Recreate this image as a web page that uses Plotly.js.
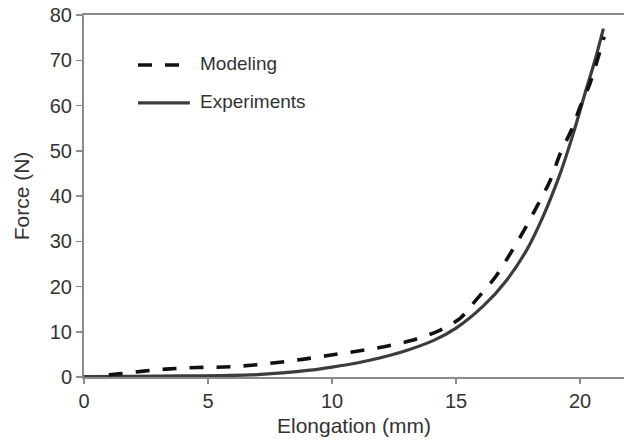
<!DOCTYPE html>
<html>
<head>
<meta charset="utf-8">
<script src="https://cdn.plot.ly/plotly-3.0.1.min.js"></script>
<style>html,body{margin:0;padding:0;background:#fff;}#chart{width:624px;height:441px;}</style>
</head>
<body>
<div id="chart"></div>
<script>
// Data
var modelingX = [1.0, 1.4, 2.4, 3.45, 4.55, 5.65, 6.75, 7.8, 8.8, 9.9, 11.0, 12.1, 13.15, 14.25, 15.15, 15.8, 16.6, 17.2, 17.75, 18.25, 18.8, 19.2, 19.65, 20.0, 20.4, 20.97];
var modelingY = [0.5, 0.7, 1.3, 1.8, 2.1, 2.2, 2.6, 3.2, 3.9, 4.8, 5.7, 6.7, 8.0, 10.1, 12.9, 17.0, 22.2, 27.4, 32.5, 37.6, 43.5, 49.4, 54.6, 59.7, 64.9, 75.2];
var experimentsX = [0, 2, 4, 5.5, 6.7, 8, 9.1, 10, 11, 12, 12.74, 14.1, 15, 16.1, 17.04, 17.85, 18.5, 19.2, 19.73, 20.2, 20.6, 20.94];
var experimentsY = [0.1, 0.15, 0.25, 0.3, 0.45, 0.9, 1.5, 2.2, 3.1, 4.3, 5.4, 8.1, 10.8, 15.7, 21.4, 28.1, 35.4, 45.0, 53.9, 62.7, 70.0, 77.0];
var seriesNames = ["Modeling", "Experiments"];
var xTicks = [0, 5, 10, 15, 20];
var yTicks = [0, 10, 20, 30, 40, 50, 60, 70, 80];

var font = '"Liberation Sans", Arial, sans-serif';
var axisColor = '#8c8c8c';
var textColor = '#333333';

var traces = [
  {x: experimentsX, y: experimentsY, name: seriesNames[1], mode: 'lines',
   line: {color: '#3c3c3c', width: 3.2, shape: 'spline', smoothing: 0.8}},
  {x: modelingX, y: modelingY, name: seriesNames[0], mode: 'lines',
   line: {color: '#111111', width: 3.6, dash: '14px,13px', shape: 'spline', smoothing: 0.8}}
];

var layout = {
  width: 624, height: 441,
  margin: {l: 84, r: 0, t: 15, b: 64},
  paper_bgcolor: '#fff', plot_bgcolor: '#fff',
  showlegend: false,
  font: {family: font, color: textColor},
  xaxis: {
    range: [0, 21.77], tickvals: xTicks, ticktext: xTicks.map(String),
    showgrid: false, zeroline: false, showline: true, linecolor: axisColor, linewidth: 2,
    mirror: true, ticks: 'outside', ticklen: 5, tickwidth: 1.5, tickcolor: axisColor,
    tickfont: {size: 20, color: textColor, family: font},
    title: {text: 'Elongation (mm)', font: {size: 21, color: textColor, family: font}, standoff: 7}
  },
  yaxis: {
    range: [0, 80], tickvals: yTicks, ticktext: yTicks.map(String),
    showgrid: false, zeroline: false, showline: true, linecolor: axisColor, linewidth: 2,
    ticks: 'outside', ticklen: 6, tickwidth: 1.5, tickcolor: axisColor,
    tickfont: {size: 20, color: textColor, family: font},
    title: {text: 'Force (N)', font: {size: 21, color: textColor, family: font}, standoff: 14}
  },
  shapes: [
    {type: 'line', xref: 'paper', yref: 'paper', x0: 0.1, x1: 0.178, y0: 0.862, y1: 0.862,
     line: {color: '#111111', width: 3.6, dash: '14px,13px'}},
    {type: 'line', xref: 'paper', yref: 'paper', x0: 0.1, x1: 0.196, y0: 0.757, y1: 0.757,
     line: {color: '#3c3c3c', width: 3.2}}
  ],
  annotations: [
    {xref: 'paper', yref: 'paper', x: 0.212, y: 0.866, xanchor: 'left', yanchor: 'middle',
     text: seriesNames[0], showarrow: false, font: {size: 19, color: textColor, family: font}},
    {xref: 'paper', yref: 'paper', x: 0.212, y: 0.761, xanchor: 'left', yanchor: 'middle',
     text: seriesNames[1], showarrow: false, font: {size: 19, color: textColor, family: font}}
  ]
};

Plotly.newPlot('chart', traces, layout, {displayModeBar: false, staticPlot: true});
</script>
</body>
</html>
